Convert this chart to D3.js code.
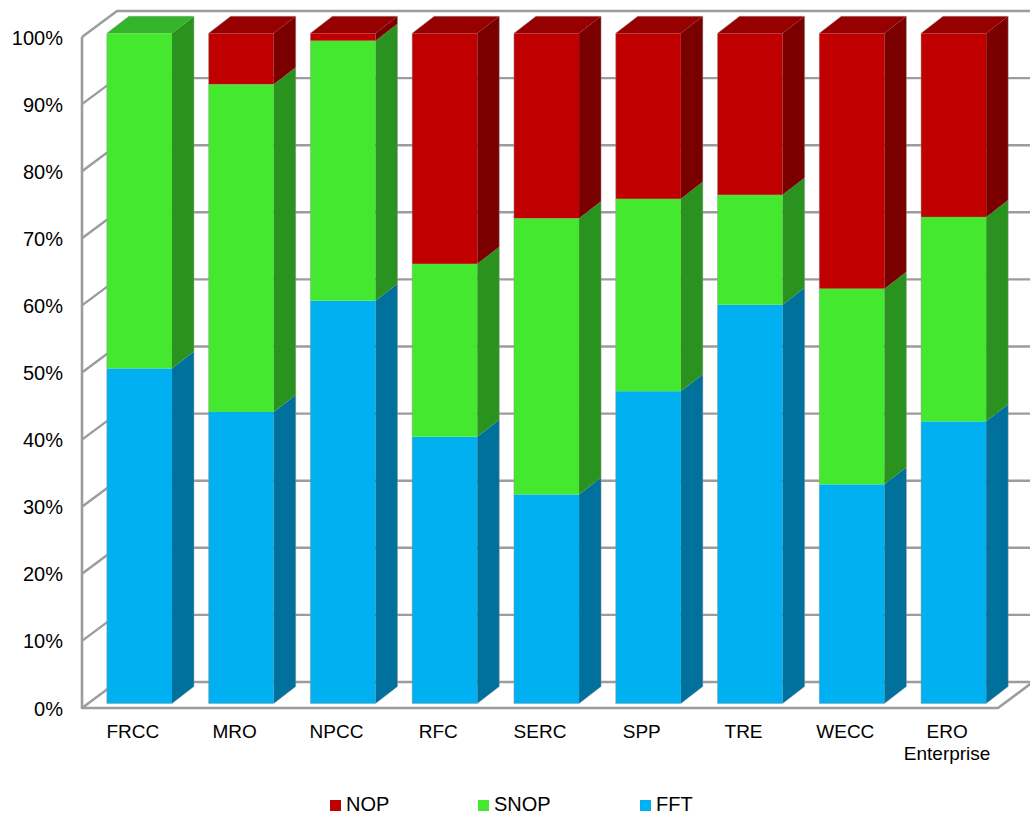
<!DOCTYPE html>
<html><head><meta charset="utf-8">
<script src="https://cdn.jsdelivr.net/npm/d3@7/dist/d3.min.js"></script>
<style>
html,body{margin:0;padding:0;background:#fff;}
svg{display:block;font-family:"Liberation Sans",Arial,Helvetica,sans-serif;}
</style></head>
<body>
<svg id="chart" width="1030" height="816"></svg>
<script>
const categories = ["FRCC","MRO","NPCC","RFC","SERC","SPP","TRE","WECC","ERO Enterprise"];
const seriesNames = ["FFT","SNOP","NOP"];
const FFT  = [50.0, 43.5, 60.1, 39.8, 31.2, 46.6, 59.5, 32.7, 42.1];
const SNOP = [50.0, 48.9, 38.8, 25.8, 41.2, 28.7, 16.4, 29.2, 30.5];
const NOP  = [ 0.0,  7.6,  1.1, 34.4, 27.6, 24.7, 24.1, 38.1, 27.4];
const yTicks = [0,10,20,30,40,50,60,70,80,90,100];
const legendOrder = ["NOP","SNOP","FFT"];

const colors = {
  FFT:  {front:"#00B0F0", side:"#00709C", top:"#0090C8"},
  SNOP: {front:"#44E82E", side:"#2A931F", top:"#34B42A"},
  NOP:  {front:"#C00000", side:"#7A0000", top:"#960000"}
};

const svg = d3.select("#chart");
const W = 1030;

// Geometry
const wallDX = 35, wallDY = -26;   // depth of the floor / walls
const barDX = 22, barDY = -17;     // depth of each bar
const yFront = d3.scaleLinear().domain([0,100]).range([708,37]);
const yBar = d3.scaleLinear().domain([0,100]).range([703.5,33.3]);
const xFloor = d3.scaleBand().domain(categories).range([82,998]).padding(0);
const xBar = d3.scaleBand().domain(categories).range([88.5,1004.5]).paddingInner(0.36).paddingOuter(0.18);

const gridColor = "#9c9c9c";
const grid = svg.append("g");

// back wall + left wall grid lines
yTicks.forEach(t => {
  const yf = yFront(t), yb = yf + wallDY;
  grid.append("path")
    .attr("d", `M${82},${yf}L${82+wallDX},${yb}L${W},${yb}`)
    .attr("fill","none").attr("stroke",gridColor).attr("stroke-width",2.4);
});
// left wall front vertical line
grid.append("line").attr("x1",82).attr("x2",82)
  .attr("y1",yFront(100)).attr("y2",yFront(0)+1)
  .attr("stroke",gridColor).attr("stroke-width",2.6);
// floor front edge and right edge
grid.append("path")
  .attr("d", `M${82},${yFront(0)}L${998},${yFront(0)}L${998+wallDX},${yFront(0)+wallDY}`)
  .attr("fill","none").attr("stroke",gridColor).attr("stroke-width",2.6);

// stacked data
const table = categories.map((c,i)=>({cat:c, FFT:FFT[i], SNOP:SNOP[i], NOP:NOP[i]}));
const stack = d3.stack().keys(seriesNames)(table);

const bars = svg.append("g");
categories.forEach((c,i) => {
  const x0 = xBar(c), w = xBar.bandwidth();
  const g = bars.append("g");
  let topKey = null, topY = null;
  stack.forEach(layer => {
    const key = layer.key;
    const [v0, v1] = layer[i];
    if (v1 - v0 <= 0) return;
    const y0 = yBar(v0), y1 = yBar(v1);
    const col = colors[key];
    g.append("rect").attr("x",x0).attr("y",y1).attr("width",w).attr("height",y0-y1)
      .attr("fill",col.front);
    g.append("path")
      .attr("d",`M${x0+w},${y0}L${x0+w+barDX},${y0+barDY}L${x0+w+barDX},${y1+barDY}L${x0+w},${y1}Z`)
      .attr("fill",col.side);
    topKey = key; topY = y1;
  });
  if (topKey) {
    g.append("path")
      .attr("d",`M${x0},${topY}L${x0+barDX},${topY+barDY}L${x0+w+barDX},${topY+barDY}L${x0+w},${topY}Z`)
      .attr("fill",colors[topKey].top);
  }
  const yb = yBar(0), yt = yBar(100);
  g.append("path")
    .attr("d",`M${x0},${yb}L${x0},${yt}L${x0+barDX},${yt+barDY}L${x0+w+barDX},${yt+barDY}L${x0+w+barDX},${yb+barDY}L${x0+w},${yb}Z`)
    .attr("fill","none").attr("stroke","rgba(150,150,150,0.45)").attr("stroke-width",1);
});

// y axis labels
svg.append("g").selectAll("text").data(yTicks).join("text")
  .attr("x",63).attr("y",d=>yFront(d)+7.5)
  .attr("text-anchor","end").attr("font-size",20).attr("fill","#000")
  .text(d=>d+"%");

// category labels
const catG = svg.append("g");
categories.forEach(c => {
  const cx = xFloor(c) + xFloor.bandwidth()/2;
  const parts = c === "ERO Enterprise" ? ["ERO","Enterprise"] : [c];
  parts.forEach((p,j) => {
    catG.append("text").attr("x",cx).attr("y",738 + j*22)
      .attr("text-anchor","middle").attr("font-size",19).attr("fill","#000").text(p);
  });
});

// legend
const legendX = {NOP:330, SNOP:478, FFT:640};
const lg = svg.append("g");
legendOrder.forEach(k => {
  lg.append("rect").attr("x",legendX[k]).attr("y",800).attr("width",11).attr("height",11)
    .attr("fill",colors[k].front);
  lg.append("text").attr("x",legendX[k]+16).attr("y",811).attr("font-size",20)
    .attr("fill","#000").text(k);
});
</script>
</body></html>
